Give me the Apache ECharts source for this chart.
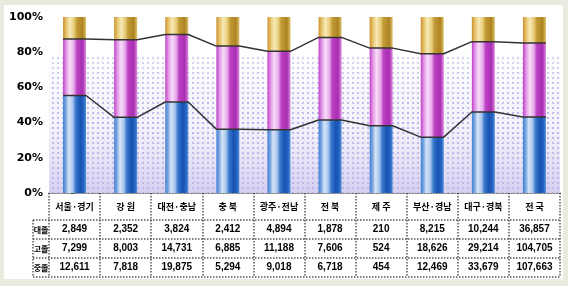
<!DOCTYPE html>
<html>
<head>
<meta charset="utf-8">
<script src="https://cdn.jsdelivr.net/npm/echarts@6/dist/echarts.min.js"></script>
<style>
  html, body { margin: 0; padding: 0; background: #e9ebdf; }
  #chart { width: 568px; height: 286px; }
</style>
</head>
<body>
<div id="chart"></div>
<script>
const regions = ['서울·경기', '강 원', '대전·충남', '충 북', '광주·전남', '전 북', '제 주', '부산·경남', '대구·경북', '전 국']
const rowLabels = ['대졸', '고졸', '중졸']
const college = [2849, 2352, 3824, 2412, 4894, 1878, 210, 8215, 10244, 36857]
const high = [7299, 8003, 14731, 6885, 11188, 7606, 524, 18626, 29214, 104705]
const middle = [12611, 7818, 19875, 5294, 9018, 6718, 454, 12469, 33679, 107663]
const yTicks = [0, 20, 40, 60, 80, 100]

const fmt = n => n.toLocaleString('en-US')
const totals = regions.map((_, i) => college[i] + high[i] + middle[i])
const pMid = middle.map((v, i) => v / totals[i] * 100)
const pHigh = high.map((v, i) => v / totals[i] * 100)
const pCol = college.map((v, i) => v / totals[i] * 100)

// boundary lines run flat across each bar, then slope to the next one
const HALF = 0.225
function steps(vals) {
  const pts = []
  vals.forEach((v, i) => { pts.push([i - HALF, v], [i + HALF, v]) })
  return pts
}
const lowLine = steps(pMid)
const topLine = steps(pMid.map((v, i) => v + pHigh[i]))

function hGrad(stops) {
  return new echarts.graphic.LinearGradient(0, 0, 1, 0,
    stops.map(([offset, color]) => ({ offset, color })))
}
const blue = hGrad([[0, '#3f7ed2'], [0.12, '#78a6e0'], [0.25, '#d6e4f6'], [0.42, '#a8c6ee'],
  [0.55, '#3a78cc'], [0.75, '#1652b2'], [0.9, '#2564c2'], [1, '#5a92d8']])
const pink = hGrad([[0, '#c040c6'], [0.15, '#e49ce8'], [0.3, '#f7dcf7'], [0.48, '#e6a8ea'],
  [0.6, '#bc40c2'], [0.85, '#a82eb2'], [1, '#dc88de']])
const gold = hGrad([[0, '#cc9030'], [0.15, '#e8c670'], [0.3, '#f6eab8'], [0.48, '#e8cc78'],
  [0.6, '#c29a36'], [0.85, '#ad8422'], [1, '#dcc06a']])

// dotted fill for the plot background
const dots = document.createElement('canvas')
dots.width = 5; dots.height = 5
const dctx = dots.getContext('2d')
dctx.fillStyle = '#ffffff'; dctx.fillRect(0, 0, 5, 5)
dctx.fillStyle = '#aeaae8'; dctx.fillRect(2, 2, 2, 2)

const chart = echarts.init(document.getElementById('chart'))

const rowY = [229.5, 248.5, 267.5]
const hLines = [220, 239, 258, 277]

chart.setOption({
  animation: false,
  backgroundColor: '#e9ebdf',
  grid: { left: 49, right: 8, top: 17, bottom: 93 },
  xAxis: [{
    type: 'category', data: regions,
    axisLine: { lineStyle: { color: '#555', width: 1.5, type: 'dotted' } },
    axisTick: { show: true, length: 84, interval: 0, lineStyle: { color: '#555', width: 1.5, type: 'dotted' } },
    axisLabel: {
      interval: 0, margin: 0, color: '#000',
      formatter: (v, i) => `{h|${v}}\n{n|${fmt(college[i])}}\n{n|${fmt(high[i])}}\n{n|${fmt(middle[i])}}`,
      rich: {
        h: { fontFamily: '"Noto Sans CJK KR"', fontWeight: 'bold', fontSize: 9, lineHeight: 27, color: '#000' },
        n: { fontFamily: '"Liberation Sans", Arial', fontWeight: 'bold', fontSize: 10, lineHeight: 19, color: '#000' }
      }
    },
    splitLine: { show: false }
  }, {
    type: 'value', min: -0.5, max: 9.5, show: false
  }],
  yAxis: {
    type: 'value', min: 0, max: 100, interval: 20,
    axisLine: { show: true, lineStyle: { color: '#777', type: 'dotted' } },
    axisTick: { show: true, length: 4, lineStyle: { color: '#555' } },
    axisLabel: {
      margin: 6, color: '#000', fontSize: 11, fontWeight: 'bold',
      fontFamily: '"DejaVu Sans", sans-serif',
      formatter: v => yTicks.includes(v) ? v + '%' : ''
    },
    splitLine: { show: false }
  },
  series: [
    {
      type: 'line', data: [], z: 1, silent: true,
      markArea: {
        silent: true,
        itemStyle: { color: { image: dots, repeat: 'repeat' } },
        data: [[{ yAxis: 0 }, { yAxis: 79 }]]
      }
    },
    {
      type: 'line', data: [], z: 1, silent: true,
      markArea: {
        silent: true,
        itemStyle: {
          color: new echarts.graphic.LinearGradient(0, 0, 0, 1, [
            { offset: 0, color: 'rgba(255,255,255,0.5)' },
            { offset: 0.5, color: 'rgba(220,214,242,0.3)' },
            { offset: 1, color: 'rgba(196,186,234,0.7)' }
          ])
        },
        data: [[{ yAxis: 0 }, { yAxis: 79 }]]
      }
    },
    { name: rowLabels[2], type: 'bar', stack: 's', barWidth: '45%', data: pMid, itemStyle: { color: blue }, z: 3 },
    { name: rowLabels[1], type: 'bar', stack: 's', barWidth: '45%', data: pHigh, itemStyle: { color: pink }, z: 3 },
    { name: rowLabels[0], type: 'bar', stack: 's', barWidth: '45%', data: pCol, itemStyle: { color: gold }, z: 3 },
    {
      type: 'line', xAxisIndex: 1, data: lowLine, showSymbol: false, z: 5,
      lineStyle: { color: '#333', width: 1.5 }
    },
    {
      type: 'line', xAxisIndex: 1, data: topLine, showSymbol: false, z: 5,
      lineStyle: { color: '#333', width: 1.5 }
    }
  ],
  graphic: [
    { type: 'rect', z: -10, shape: { x: 4, y: 5, width: 559, height: 274 }, style: { fill: '#fff' } },
    ...hLines.map(y => ({
      type: 'line', z: 10,
      shape: { x1: 33, y1: y, x2: 560, y2: y },
      style: { stroke: '#555', lineWidth: 1.5, lineDash: [1.5, 1.5] }
    })),
    {
      type: 'line', z: 10, shape: { x1: 33, y1: 220, x2: 33, y2: 277 },
      style: { stroke: '#555', lineWidth: 1.5, lineDash: [1.5, 1.5] }
    },
    ...rowLabels.map((t, i) => ({
      type: 'text', z: 10, x: 41, y: rowY[i],
      style: {
        text: t, fill: '#000', align: 'center', verticalAlign: 'middle',
        font: 'bold 8px "Noto Sans CJK KR"'
      }
    }))
  ]
})
</script>
</body>
</html>
